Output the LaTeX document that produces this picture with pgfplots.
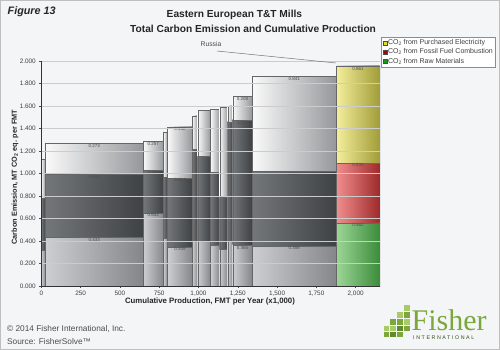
\documentclass[border=0pt]{standalone}
\usepackage{pgfplots}
\pgfplotsset{compat=1.18}
\usepackage{fontspec}
\setmainfont{Liberation Sans}
\newfontfamily\seriffont{Liberation Serif}
\newfontfamily\spacedfont[LetterSpace=30]{Liberation Sans}
\definecolor{bgc}{HTML}{F4F5F7}
\definecolor{bL}{HTML}{CDCED1}\definecolor{bR}{HTML}{848689}
\definecolor{mL}{HTML}{74777A}\definecolor{mR}{HTML}{3F4245}
\definecolor{tL}{HTML}{FAFAFA}\definecolor{tR}{HTML}{95989B}
\definecolor{gL}{HTML}{9CD698}\definecolor{gR}{HTML}{3C8C3A}
\definecolor{rL}{HTML}{F28E8E}\definecolor{rR}{HTML}{9E2A2A}
\definecolor{yL}{HTML}{F4EE9C}\definecolor{yR}{HTML}{A19D38}
\definecolor{logoA}{HTML}{A8CB68}\definecolor{logoB}{HTML}{7BA73D}\definecolor{logoC}{HTML}{5E8B2B}
\newcommand{\seg}[6]{\addplot[forget plot, draw=black!60, line width=0.3pt, left color=#5, right color=#6] coordinates {(#1,#3) (#2,#3) (#2,#4) (#1,#4)} -- cycle;}
\newcommand{\vlab}[3]{\node[font=\fontsize{4.5}{5}\selectfont, text=black!70, anchor=north, inner sep=0.8pt] at (axis cs:#1,#2) {#3};}
\begin{document}
\begin{tikzpicture}
\useasboundingbox (0,0) rectangle (500pt,-350pt);
\begin{scope}[x=1pt,y=-1pt]
\draw[black!25, line width=1pt, fill=bgc] (0.5,0.5) rectangle (499.5,349.5);
\node[anchor=west, font=\fontsize{10.8}{12}\selectfont\bfseries\itshape, text=black!85, inner sep=0] at (7.5,11.8) {Figure 13};
\node[anchor=west, font=\fontsize{10.2}{12}\selectfont\bfseries, text=black!85, inner sep=0] at (166.5,14.8) {Eastern European T\&T Mills};
\node[anchor=west, font=\fontsize{10.2}{12}\selectfont\bfseries, text=black!85, inner sep=0] at (130,28.8) {Total Carbon Emission and Cumulative Production};
\end{scope}
\begin{axis}[
  at={(41.3pt,-286pt)}, anchor=south west,
  scale only axis, width=338.7pt, height=225pt,
  xmin=0, xmax=2155, ymin=0, ymax=2,
  axis x line*=bottom, axis y line*=left,
  axis line style={black!80, line width=0.6pt, -},
  xtick={0,250,500,750,1000,1250,1500,1750,2000},
  ytick={0,0.2,0.4,0.6,0.8,1.0,1.2,1.4,1.6,1.8,2.0},
  tick align=outside, major tick length=2pt,
  tick style={black!70, line width=0.4pt},
  ymajorgrids, major grid style={black!20, line width=0.6pt},
  axis on top,
  ticklabel style={font=\fontsize{6.4}{7}\selectfont, text=black!75},
  /pgf/number format/assume math mode=true,
  xticklabel style={/pgf/number format/1000 sep={,}, yshift=1pt},
  yticklabel style={/pgf/number format/fixed, /pgf/number format/fixed zerofill, /pgf/number format/precision=3, /pgf/number format/1000 sep={}},
  xlabel={Cumulative Production, FMT per Year (x1,000)},
  xlabel style={at={(axis description cs:0.498,-0.068)}, anchor=center, font=\fontsize{7.8}{9}\selectfont\bfseries, text=black!85},
  ylabel={Carbon Emission, MT CO\textsubscript{2} eq. per FMT},
  ylabel style={at={(axis description cs:-0.078,0.484)}, anchor=center, font=\fontsize{7.3}{8}\selectfont\bfseries, text=black!85},
  legend style={at={(axis description cs:1.003,1.107)}, anchor=north west, draw=black!45, fill=white, font=\fontsize{7}{8}\selectfont, text=black!75, inner xsep=1.5pt, inner ysep=1.5pt, row sep=0.6pt, nodes={inner sep=1pt}},
  legend cell align=left,
  legend image code/.code={\draw[#1, draw=black!70, line width=0.3pt] (0pt,-2pt) rectangle (4pt,2pt);},
]
\addlegendimage{fill=yellow!70!olive!80}\addlegendentry{CO\textsubscript{2} from Purchased Electricity}
\addlegendimage{fill=red!70!black}\addlegendentry{CO\textsubscript{2} from Fossil Fuel Combustion}
\addlegendimage{fill=green!55!black!90}\addlegendentry{CO\textsubscript{2} from Raw Materials}
% bar 1
\seg{0}{25}{0}{0.320}{bL}{bR}\seg{0}{25}{0.320}{0.785}{mL}{mR}\seg{0}{25}{0.785}{1.126}{tL}{tR}
% bar 2
\seg{25}{648}{0}{0.433}{bL}{bR}\seg{25}{648}{0.433}{0.994}{mL}{mR}\seg{25}{648}{0.994}{1.267}{tL}{tR}
% bar 3
\seg{648}{778}{0}{0.652}{bL}{bR}\seg{648}{778}{0.652}{1.031}{mL}{mR}\seg{648}{778}{1.031}{1.288}{tL}{tR}
% bar 4
\seg{778}{803}{0}{0.427}{bL}{bR}\seg{778}{803}{0.427}{0.966}{mL}{mR}\seg{778}{803}{0.966}{1.366}{tL}{tR}
% bar 5
\seg{803}{961}{0}{0.349}{bL}{bR}\seg{803}{961}{0.349}{0.963}{mL}{mR}\seg{803}{961}{0.963}{1.415}{tL}{tR}
% bar 6
\seg{961}{995}{0}{0.400}{bL}{bR}\seg{961}{995}{0.400}{1.215}{mL}{mR}\seg{961}{995}{1.215}{1.514}{tL}{tR}
% bar 7
\seg{995}{1077}{0}{0.403}{bL}{bR}\seg{995}{1077}{0.403}{1.150}{mL}{mR}\seg{995}{1077}{1.150}{1.564}{tL}{tR}
% bar 8
\seg{1077}{1135}{0}{0.364}{bL}{bR}\seg{1077}{1135}{0.364}{1.016}{mL}{mR}\seg{1077}{1135}{1.016}{1.573}{tL}{tR}
% bar 9
\seg{1135}{1186}{0}{0.326}{bL}{bR}\seg{1135}{1186}{0.326}{0.790}{mL}{mR}\seg{1135}{1186}{0.790}{1.588}{tL}{tR}
% bar 10
\seg{1186}{1218}{0}{0.400}{bL}{bR}\seg{1186}{1218}{0.400}{1.460}{mL}{mR}\seg{1186}{1218}{1.460}{1.603}{tL}{tR}
% bar 11
\seg{1218}{1341}{0}{0.365}{bL}{bR}\seg{1218}{1341}{0.365}{1.476}{mL}{mR}\seg{1218}{1341}{1.476}{1.684}{tL}{tR}
% bar 12
\seg{1341}{1877}{0}{0.358}{bL}{bR}\seg{1341}{1877}{0.358}{1.022}{mL}{mR}\seg{1341}{1877}{1.022}{1.863}{tL}{tR}
% Russia
\seg{1877}{2153}{0}{0.562}{gL}{gR}\seg{1877}{2153}{0.562}{1.095}{rL}{rR}\seg{1877}{2153}{1.095}{1.956}{yL}{yR}
% value labels
\vlab{336.5}{0.433}{0.433}\vlab{336.5}{0.994}{0.561}\vlab{336.5}{1.267}{0.273}
\vlab{713}{0.652}{0.652}\vlab{713}{1.031}{0.379}\vlab{713}{1.288}{0.257}
\vlab{882}{0.349}{0.349}\vlab{882}{0.963}{0.614}\vlab{882}{1.415}{0.452}
\vlab{1279.5}{0.365}{0.365}\vlab{1279.5}{1.476}{1.111}\vlab{1279.5}{1.684}{0.208}
\vlab{1609}{0.358}{0.358}\vlab{1609}{1.022}{0.664}\vlab{1609}{1.863}{0.841}
\vlab{2015}{0.562}{0.562}\vlab{2015}{1.095}{0.533}\vlab{2015}{1.956}{0.861}
\end{axis}
\begin{scope}[x=1pt,y=-1pt]
\draw[black!55, line width=0.5pt] (217,51) -- (336,63);
\node[font=\fontsize{6.8}{8}\selectfont, text=black!70, inner sep=0] at (211,44.5) {Russia};
\node[anchor=west, font=\fontsize{8.3}{9}\selectfont, text=black!70, inner sep=0] at (7,329.5) {\textcopyright{} 2014 Fisher International, Inc.};
\node[anchor=west, font=\fontsize{8.3}{9}\selectfont, text=black!70, inner sep=0] at (7,342) {Source: FisherSolve\texttrademark};
% logo blocks
\fill[logoA] (384,326) rectangle (389,331);
\fill[logoB] (384,332) rectangle (389,337);
\fill[logoB] (390,319) rectangle (395.5,325);
\fill[logoA] (390,326) rectangle (395.5,331);
\fill[logoC] (390,332) rectangle (395.5,337);
\fill[logoA] (397,312) rectangle (402.5,318);
\fill[logoB] (397,319) rectangle (402.5,325);
\fill[logoC] (397,326) rectangle (402.5,331);
\fill[logoB] (397,332) rectangle (402.5,337);
\fill[logoA] (404,305) rectangle (410,311);
\fill[logoB] (404,312) rectangle (410,318);
\fill[logoA] (404,319) rectangle (410,325);
\fill[logoB] (404,326) rectangle (410,331);
\node[anchor=base west, font=\fontsize{30}{32}\seriffont, text=logoB, inner sep=0] at (411.5,330) {Fisher};
\node[anchor=west, font=\fontsize{5.3}{6}\spacedfont, text=black!45!logoC, inner sep=0] at (413,338) {INTERNATIONAL};
\end{scope}
\end{tikzpicture}
\end{document}
